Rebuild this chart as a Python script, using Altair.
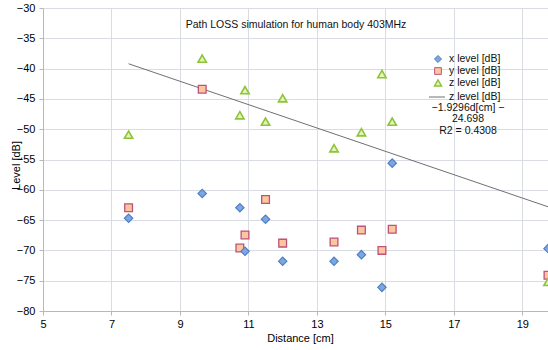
import altair as alt
import pandas as pd

# ---- data ----
distance = [7.5, 9.65, 10.75, 10.9, 11.5, 12.0, 13.5, 14.3, 14.9, 15.2, 19.75]
x_level = [-64.7, -60.6, -62.95, -70.15, -64.85, -71.8, -71.8, -70.7, -76.1, -55.6, -69.7]
y_level = [-62.95, -43.4, -69.6, -67.45, -61.6, -68.8, -68.6, -66.65, -70.0, -66.5, -74.1]
z_level = [-50.9, -38.35, -47.7, -43.55, -48.75, -44.9, -53.15, -50.5, -40.9, -48.75, -75.2]

trend_x = [7.5, 19.75]
trend_y = [-39.2, -62.8]

series_names = ["x level [dB]", "y level [dB]", "z level [dB]"]
trend_name = "z  level [dB]"
trend_label = ["\u22121.9296d[cm] \u2212", "24.698", "R2 = 0.4308"]
title_text = "Path LOSS simulation for human body 403MHz"

x_ticks = [5, 7, 9, 11, 13, 15, 17, 19]
y_ticks = [-80, -75, -70, -65, -60, -55, -50, -45, -40, -35, -30]

FONT = "Liberation Sans"
W, H = 505, 303

xscale = alt.Scale(domain=[5, 19.75], nice=False, zero=False)
yscale = alt.Scale(domain=[-80, -30], nice=False, zero=False)

xaxis = alt.Axis(values=x_ticks, title="Distance [cm]", grid=True, gridColor="#d9dce3",
                 domainColor="#b8b8b8", tickColor="#b8b8b8", tickSize=4, labelPadding=3,
                 labelFlush=False, labelOverlap=False, labelFontSize=11, labelColor="#000",
                 labelFont=FONT, titleFont=FONT, titleFontSize=11, titleFontWeight="normal",
                 titleColor="#000", titleX=257, titleY=27, titleBaseline="middle")
yaxis = alt.Axis(values=y_ticks, title="Level [dB]", grid=True, gridColor="#d9dce3",
                 domainColor="#b8b8b8", tickColor="#b8b8b8", tickSize=4, labelPadding=4,
                 labelFlush=False, labelOverlap=False, labelFontSize=11, labelColor="#000",
                 labelFont=FONT, titleFont=FONT, titleFontSize=11, titleFontWeight="normal",
                 titleColor="#000", titleX=-27, titleY=157, titleBaseline="middle", titleAlign="center")

df = pd.DataFrame({"d": distance, "x": x_level, "y": y_level, "z": z_level})
tdf = pd.DataFrame({"d": trend_x, "v": trend_y})

base = alt.Chart(df)


def X(field):
    return alt.X(field, type="quantitative", scale=xscale, axis=xaxis)


def Y(field):
    return alt.Y(field, type="quantitative", scale=yscale, axis=yaxis)


trend = alt.Chart(tdf).mark_line(color="#707070", strokeWidth=1, clip=True).encode(
    x=X("d"), y=Y("v"))

pts_x = base.mark_point(shape="diamond", size=70, filled=True, fill="#7ea6e0",
                        stroke="#4f7fc4", strokeWidth=1.2, opacity=1, clip=True).encode(
    x=X("d"), y=Y("x"))
pts_y = base.mark_point(shape="square", size=60, filled=True, fill="#fbc79c",
                        stroke="#c0507c", strokeWidth=1.3, opacity=1, clip=True).encode(
    x=X("d"), y=Y("y"))
pts_z = base.mark_point(shape="triangle-up", size=70, filled=True, fill="#e6f3b4",
                        stroke="#8cc43a", strokeWidth=1.6, opacity=1, clip=True).encode(
    x=X("d"), y=Y("z"))


def txt(s, px, py, align="left", size=10.5):
    return alt.Chart(pd.DataFrame({"t": [s]})).mark_text(
        align=align, baseline="middle", font=FONT, fontSize=size, color="#111"
    ).encode(text="t:N", x=alt.value(px), y=alt.value(py))


title = txt(title_text, 253, 17, align="center", size=10.5)

leg_x = alt.Chart(pd.DataFrame({"t": [0]})).mark_point(
    shape="diamond", size=50, filled=True, fill="#7ea6e0", stroke="#4f7fc4", strokeWidth=1, opacity=1
).encode(x=alt.value(395), y=alt.value(51))
leg_y = alt.Chart(pd.DataFrame({"t": [0]})).mark_point(
    shape="square", size=45, filled=True, fill="#fbc79c", stroke="#c0507c", strokeWidth=1, opacity=1
).encode(x=alt.value(395), y=alt.value(63))
leg_z = alt.Chart(pd.DataFrame({"t": [0]})).mark_point(
    shape="triangle-up", size=50, filled=True, fill="#e6f3b4", stroke="#8cc43a", strokeWidth=1.4, opacity=1
).encode(x=alt.value(395), y=alt.value(75))
leg_line = alt.Chart(pd.DataFrame({"t": [0]})).mark_rule(color="#707070", strokeWidth=1).encode(
    x=alt.value(386), x2=alt.value(402), y=alt.value(89))

legend = (leg_x + leg_y + leg_z + leg_line
          + txt(series_names[0], 406, 51) + txt(series_names[1], 406, 63)
          + txt(series_names[2], 406, 75) + txt(trend_name, 406, 89)
          + txt(trend_label[0], 425, 100, align="center")
          + txt(trend_label[1], 425, 111, align="center")
          + txt(trend_label[2], 425, 123, align="center"))

chart = alt.layer(trend, pts_y, pts_x, pts_z, title, legend).properties(
    width=W, height=H,
    autosize=alt.AutoSizeParams(type="none"),
    padding={"left": 43, "top": 8, "right": 0, "bottom": 39},
    background="white",
).configure_view(stroke="transparent")

chart.save("out.html", embed_options={"renderer": "svg", "actions": False})
